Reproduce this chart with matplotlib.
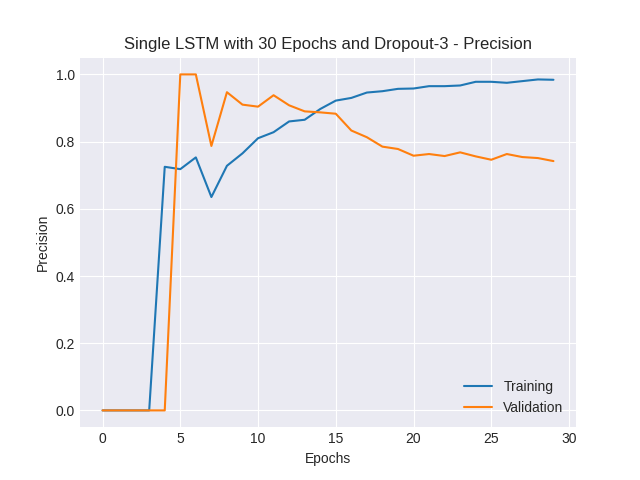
import matplotlib
matplotlib.use("Agg")
import matplotlib.pyplot as plt

epochs = list(range(30))
training = [0, 0, 0, 0, 0.725, 0.718, 0.753, 0.635, 0.728, 0.765, 0.810, 0.828,
            0.860, 0.865, 0.897, 0.922, 0.930, 0.946, 0.950, 0.957, 0.958, 0.965,
            0.965, 0.967, 0.978, 0.978, 0.975, 0.980, 0.985, 0.984]
validation = [0, 0, 0, 0, 0, 1.0, 1.0, 0.787, 0.947, 0.910, 0.904, 0.938, 0.908,
              0.890, 0.887, 0.883, 0.833, 0.813, 0.785, 0.778, 0.758, 0.763, 0.757,
              0.768, 0.756, 0.746, 0.763, 0.754, 0.751, 0.742]

plt.style.use("seaborn-v0_8-darkgrid")
plt.rcParams['font.family'] = ['Liberation Sans', 'DejaVu Sans']

fig, ax = plt.subplots(figsize=(6.4, 4.8), dpi=100)
ax.plot(epochs, training, label="Training")
ax.plot(epochs, validation, label="Validation")
ax.set_title("Single LSTM with 30 Epochs and Dropout-3 - Precision")
ax.set_xlabel("Epochs")
ax.set_ylabel("Precision")
ax.legend(loc="lower right")
fig.savefig("out.png")
